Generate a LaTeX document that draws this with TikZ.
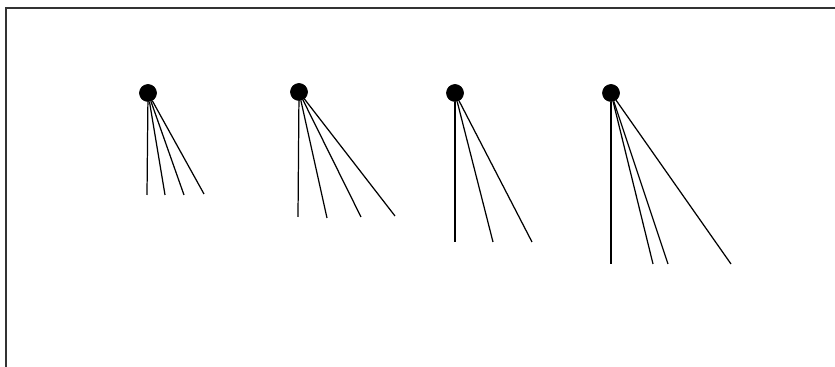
\documentclass[tikz,border=0pt]{standalone}
\usetikzlibrary{positioning}

\begin{document}
\begin{tikzpicture}[
    x=0.02cm, y=-0.02cm,
    dot/.style={draw, circle, fill=black, inner sep=0pt, minimum size=0.34cm},
    stem/.style={line width=0.7pt},
    frame/.style={draw=black!80, line width=1.2pt}
]
\useasboundingbox (0,0) rectangle (835,367);

% Rahmen (oben und links)
\draw[frame] (835,8) -- (6,8) -- (6,367);

% Knoten
\node[dot] (k1) at (148,93) {};
\node[dot] (k2) at (299,92) {};
\node[dot] (k3) at (455,93) {};
\node[dot] (k4) at (611,93) {};

% Endpunkte
\coordinate (k1a) at (147,195);
\coordinate (k1b) at (165,195);
\coordinate (k1c) at (184,195);
\coordinate (k1d) at (204,194);
\coordinate (k2a) at (298,217);
\coordinate (k2b) at (327,218);
\coordinate (k2c) at (361,217);
\coordinate (k2d) at (395,216);
\coordinate (k3a) at (455,242);
\coordinate (k3b) at (493,242);
\coordinate (k3c) at (532,242);
\coordinate (k4a) at (611,264);
\coordinate (k4b) at (653,264);
\coordinate (k4c) at (668,264);
\coordinate (k4d) at (731,264);

% Linien
\foreach \e in {a,b,c,d} \draw[stem] (k1) -- (k1\e);
\foreach \e in {a,b,c,d} \draw[stem] (k2) -- (k2\e);
\foreach \e in {a,b,c} \draw[stem] (k3) -- (k3\e);
\foreach \e in {a,b,c,d} \draw[stem] (k4) -- (k4\e);

\end{tikzpicture}
\end{document}
